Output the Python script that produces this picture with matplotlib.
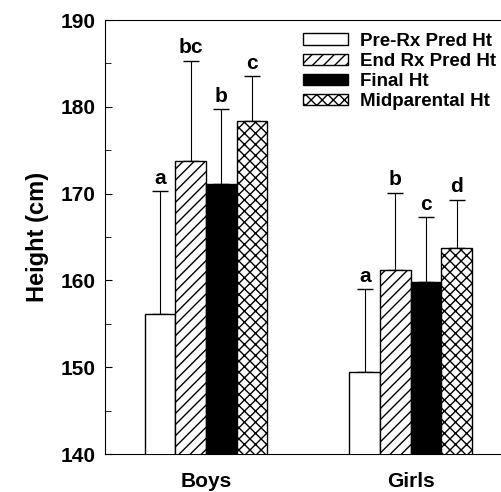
import numpy as np
import matplotlib.pyplot as plt

plt.rcParams['font.family'] = ['Liberation Sans', 'DejaVu Sans']
plt.rcParams['font.weight'] = 'bold'
plt.rcParams['hatch.linewidth'] = 1.0

groups = ["Boys", "Girls"]
series = ["Pre-Rx Pred Ht", "End Rx Pred Ht", "Final Ht", "Midparental Ht"]
means = {
    "Pre-Rx Pred Ht": [156.1, 149.4],
    "End Rx Pred Ht": [173.8, 161.2],
    "Final Ht": [171.1, 159.8],
    "Midparental Ht": [178.4, 163.7],
}
sds = {
    "Pre-Rx Pred Ht": [14.2, 9.6],
    "End Rx Pred Ht": [11.5, 8.9],
    "Final Ht": [8.6, 7.5],
    "Midparental Ht": [5.1, 5.6],
}
letters = {
    "Pre-Rx Pred Ht": ["a", "a"],
    "End Rx Pred Ht": ["bc", "b"],
    "Final Ht": ["b", "c"],
    "Midparental Ht": ["c", "d"],
}
styles = {
    "Pre-Rx Pred Ht": dict(color="white", hatch=None),
    "End Rx Pred Ht": dict(color="white", hatch="///"),
    "Final Ht": dict(color="black", hatch=None),
    "Midparental Ht": dict(color="white", hatch="xxx"),
}

fig = plt.figure(figsize=(5.01, 4.92), dpi=100)
ax = fig.add_axes([0.2096, 0.0772, 0.812, 0.882])

x = np.arange(len(groups))
w = 0.15
for i, s in enumerate(series):
    pos = x + (i - 1.5) * w
    st = styles[s]
    ax.bar(pos, means[s], w, bottom=0, color=st["color"], hatch=st["hatch"],
           edgecolor="black", linewidth=1.0, label=s, zorder=3)
    ax.errorbar(pos, means[s], yerr=[np.zeros(2), sds[s]], fmt="none",
                ecolor="black", elinewidth=0.8, capsize=6, capthick=1.0, zorder=2)
    for p, m, e, t in zip(pos, means[s], sds[s], letters[s]):
        ax.text(p, m + e + 0.4, t, ha="center", va="bottom", fontsize=15,
                fontweight="bold")

ax.set_ylim(140, 190)
ax.set_xlim(-0.494, 1.494)
ax.set_yticks(np.arange(140, 191, 10))
ax.set_yticks(np.arange(145, 190, 10), minor=True)
ax.tick_params(axis="y", which="major", direction="in", length=5, labelsize=15, pad=7)
ax.tick_params(axis="y", which="minor", direction="in", length=4)
ax.set_xticks(x)
ax.set_xticklabels(groups, fontsize=15, fontweight="bold")
ax.tick_params(axis="x", length=0, pad=13)
for lab in ax.get_yticklabels():
    lab.set_fontweight("bold")
ax.set_ylabel("Height (cm)", fontsize=17, fontweight="bold", labelpad=8)

ax.legend(loc="upper left", bbox_to_anchor=(0.46, 0.997), frameon=False,
          fontsize=13.5, handlelength=2.4, handleheight=0.53, handletextpad=0.64,
          labelspacing=0.17, borderaxespad=0.2)

fig.savefig("out.png", dpi=100)
